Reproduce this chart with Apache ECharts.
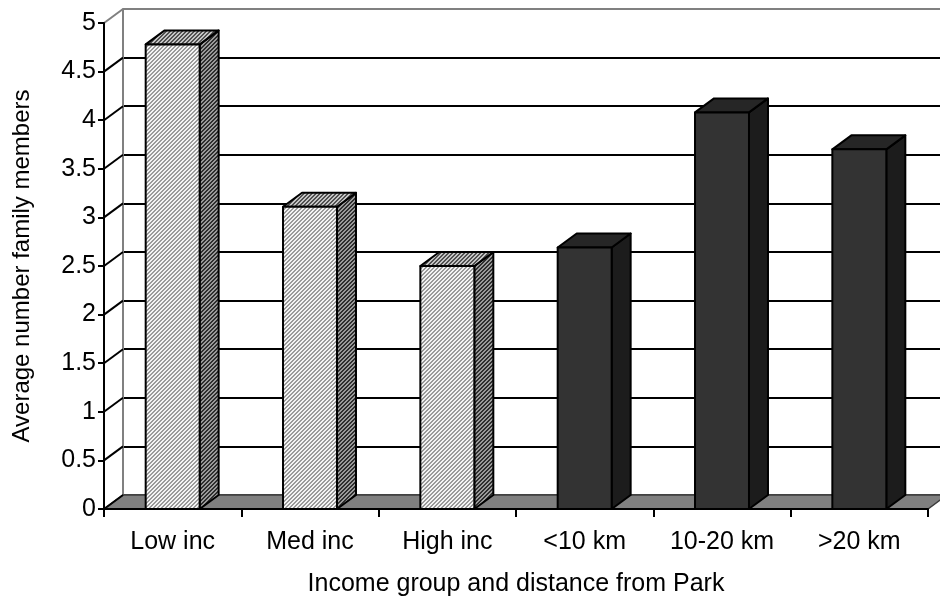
<!DOCTYPE html>
<html>
<head>
<meta charset="utf-8">
<script src="https://cdn.jsdelivr.net/npm/echarts/dist/echarts.min.js"></script>
<style>
  html, body { margin: 0; padding: 0; background: #fff; }
  #chart { width: 940px; height: 602px; }
</style>
</head>
<body>
<div id="chart"></div>
<script>
// Categories along the x axis
const categories = ['Low inc', 'Med inc', 'High inc', '<10 km', '10-20 km', '>20 km'];
// Average family members by income group (first three categories)
const incomeValues = [4.78, 3.11, 2.50];
// Average family members by distance from the park (last three categories)
const distanceValues = [2.69, 4.08, 3.70];
// Value-axis ticks
const yTicks = [0, 0.5, 1, 1.5, 2, 2.5, 3, 3.5, 4, 4.5, 5];

// Depth of the pseudo-3D box (screen offset from front plane to back wall)
const DX = 19, DY = -14;
const BAR_RATIO = 0.393;
const FONT = '"Liberation Sans", Arial, sans-serif';

// Small diagonal hatch tiles used for the patterned columns
function hatch(light, dark) {
  const c = document.createElement('canvas');
  c.width = 4; c.height = 4;
  const ctx = c.getContext('2d');
  for (let y = 0; y < 4; y++) {
    for (let x = 0; x < 4; x++) {
      ctx.fillStyle = ((x + y) % 4 < 2) ? dark : light;
      ctx.fillRect(x, y, 1, 1);
    }
  }
  return { image: c, repeat: 'repeat' };
}

const hatchedFaces = {
  front: hatch('#f4f4f4', '#9a9a9a'),
  top: hatch('#c4c4c4', '#505050'),
  side: hatch('#9a9a9a', '#2e2e2e')
};
const darkFaces = { front: '#333333', top: '#262626', side: '#1c1c1c' };

function barRenderer(faces) {
  return function (params, api) {
    const idx = api.value(0), val = api.value(1);
    const top = api.coord([idx, val]);
    const base = api.coord([idx, 0]);
    const w = api.size([1, 0])[0] * BAR_RATIO;
    const xl = top[0] - w / 2, xr = top[0] + w / 2, yt = top[1], yb = base[1];
    const edge = { stroke: '#000', lineWidth: 2, lineJoin: 'round' };
    return {
      type: 'group',
      children: [
        { type: 'polygon', shape: { points: [[xr, yb], [xr + DX, yb + DY], [xr + DX, yt + DY], [xr, yt]] },
          style: Object.assign({ fill: faces.side }, edge) },
        { type: 'polygon', shape: { points: [[xl, yt], [xr, yt], [xr + DX, yt + DY], [xl + DX, yt + DY]] },
          style: Object.assign({ fill: faces.top }, edge) },
        { type: 'rect', shape: { x: xl, y: yt, width: w, height: yb - yt },
          style: Object.assign({ fill: faces.front }, edge) }
      ]
    };
  };
}

const chart = echarts.init(document.getElementById('chart'), null, { renderer: 'canvas' });

const splitColors = yTicks.map((v, i) => i === yTicks.length - 1 ? '#808080' : (i === 0 ? '#555555' : '#000000'));

chart.setOption({
  animation: false,
  backgroundColor: '#ffffff',
  grid: [
    { left: 104, top: 23, width: 824, height: 486 },
    { left: 104 + DX, top: 23 + DY, width: 824, height: 486 }
  ],
  xAxis: [
    {
      type: 'category', gridIndex: 0, data: categories, z: 5,
      axisLine: { lineStyle: { color: '#000', width: 2 } },
      axisTick: { show: true, alignWithLabel: false, length: 8, lineStyle: { color: '#000', width: 2 } },
      axisLabel: { color: '#000', fontSize: 25, fontFamily: FONT, margin: 21 },
      name: 'Income group and distance from Park',
      nameLocation: 'middle', nameGap: 63,
      nameTextStyle: { color: '#000', fontSize: 25, fontFamily: FONT }
    },
    {
      type: 'category', gridIndex: 1, data: categories,
      axisLine: { show: false }, axisTick: { show: false }, axisLabel: { show: false }
    }
  ],
  yAxis: [
    {
      type: 'value', gridIndex: 0, min: 0, max: 5, interval: 0.5, z: 5,
      axisLine: { show: true, lineStyle: { color: '#000', width: 2 } },
      axisTick: { show: true, length: 6, lineStyle: { color: '#000', width: 2 } },
      axisLabel: { color: '#000', fontSize: 25, fontFamily: FONT, margin: 8 },
      splitLine: { show: false },
      name: 'Average number family members',
      nameLocation: 'middle', nameGap: 70,
      nameTextStyle: { color: '#000', fontSize: 24, fontFamily: FONT }
    },
    {
      type: 'value', gridIndex: 1, min: 0, max: 5, interval: 0.5,
      axisLine: { show: true, lineStyle: { color: '#808080', width: 2 } },
      axisTick: { show: false }, axisLabel: { show: false },
      splitLine: { show: true, lineStyle: { color: splitColors, width: 2 } }
    }
  ],
  series: [
    {
      // floor of the box
      type: 'custom', xAxisIndex: 0, yAxisIndex: 0, z: 1, silent: true,
      data: [[0, 0]],
      renderItem: function (params, api) {
        const half = api.size([1, 0])[0] / 2;
        const l = api.coord([0, 0]);
        const r = api.coord([categories.length - 1, 0]);
        const x0 = l[0] - half, x1 = r[0] + half, y = l[1];
        return {
          type: 'polygon',
          shape: { points: [[x0, y], [x1, y], [x1 + DX, y + DY], [x0 + DX, y + DY]] },
          style: { fill: '#808080', stroke: '#3c3c3c', lineWidth: 1.5 }
        };
      }
    },
    {
      // side-wall edges joining the axis ticks to the back wall
      type: 'custom', xAxisIndex: 0, yAxisIndex: 0, z: 2, silent: true,
      data: yTicks.map(v => [0, v]),
      renderItem: function (params, api) {
        const v = api.value(1);
        const p = api.coord([0, v]);
        const x0 = p[0] - api.size([1, 0])[0] / 2;
        return {
          type: 'line',
          shape: { x1: x0, y1: p[1], x2: x0 + DX, y2: p[1] + DY },
          style: { stroke: v === yTicks[yTicks.length - 1] ? '#808080' : '#000', lineWidth: 2 }
        };
      }
    },
    {
      name: 'Income', type: 'custom', xAxisIndex: 0, yAxisIndex: 0, z: 3,
      data: incomeValues.map((v, i) => [i, v]),
      renderItem: barRenderer(hatchedFaces)
    },
    {
      name: 'Distance', type: 'custom', xAxisIndex: 0, yAxisIndex: 0, z: 3,
      data: distanceValues.map((v, i) => [incomeValues.length + i, v]),
      renderItem: barRenderer(darkFaces)
    }
  ]
});
</script>
</body>
</html>
